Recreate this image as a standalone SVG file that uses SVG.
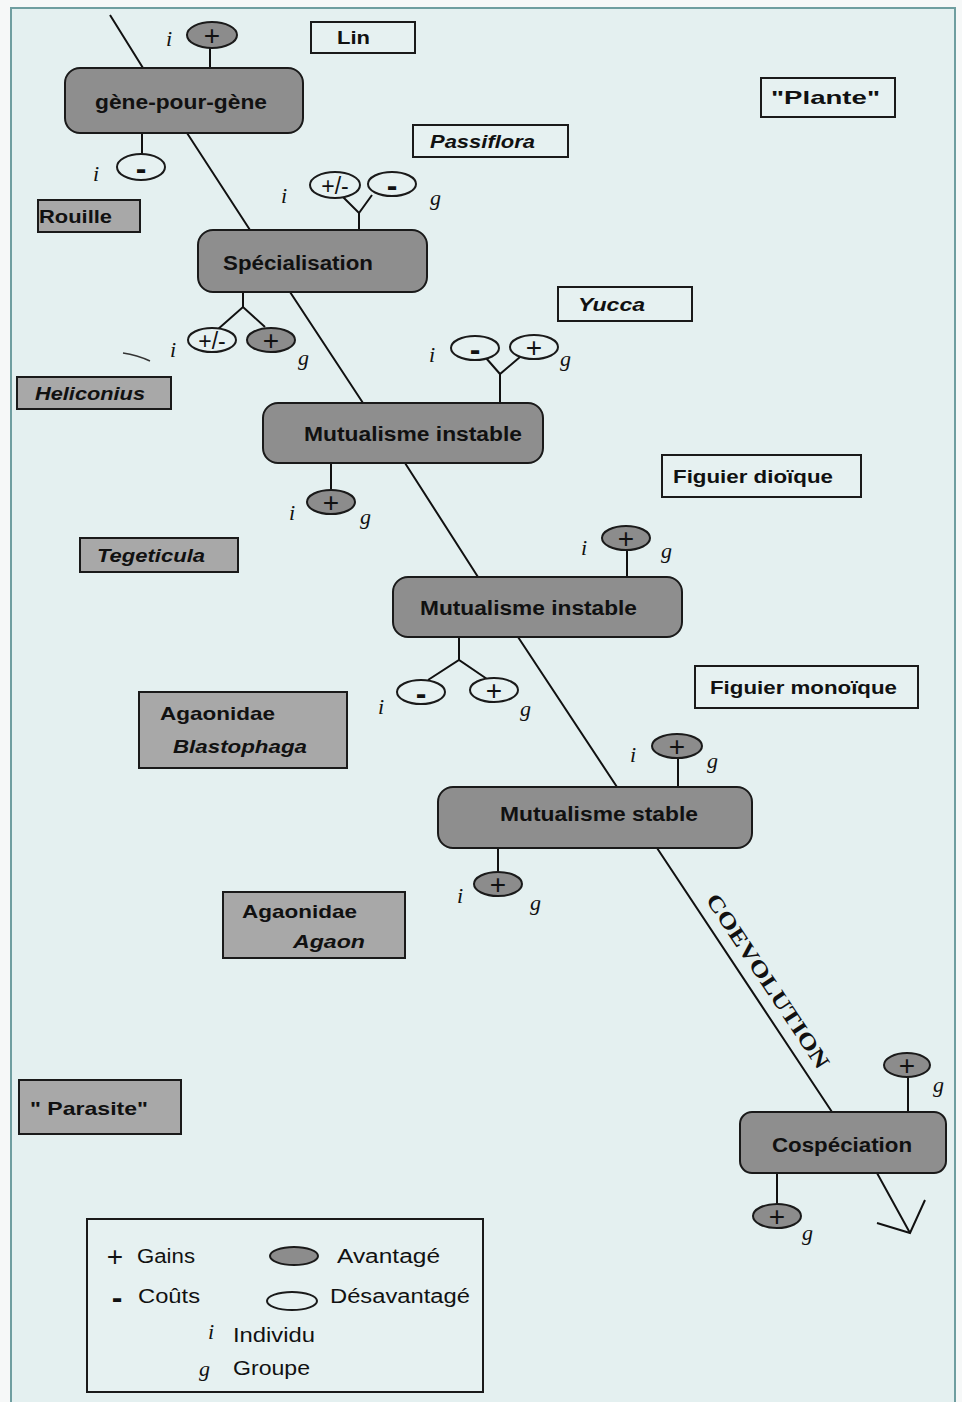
<svg xmlns="http://www.w3.org/2000/svg" width="962" height="1402" viewBox="0 0 962 1402">
<style>
.node rect{fill:#8e8e8e;stroke:#1a1a1a;stroke-width:2}
.nt{font-family:"Liberation Sans",Arial,sans-serif;font-weight:bold;font-size:20px;fill:#111}
.lb{font-family:"Liberation Sans",Arial,sans-serif;font-weight:bold;font-size:19px;fill:#111}
.it{font-style:italic}
.lbox{fill:#e6f1f1;stroke:#1a1a1a;stroke-width:2}
.gbox{fill:#a8a8a8;stroke:#1a1a1a;stroke-width:2}
.adv{fill:#8c8c8c;stroke:#1a1a1a;stroke-width:2}
.dis{fill:#e6f1f1;stroke:#1a1a1a;stroke-width:2}
.sym{font-family:"Liberation Sans",Arial,sans-serif;font-size:28px;text-anchor:middle;fill:#111}
.pm{font-family:"Liberation Sans",Arial,sans-serif;font-size:23px;text-anchor:middle;fill:#111}
.mn{font-family:"Liberation Sans",Arial,sans-serif;font-size:32px;font-weight:bold;text-anchor:middle;fill:#111}
.ig{font-family:"Liberation Serif","DejaVu Serif",serif;font-style:italic;font-size:22px;fill:#111}
.conn{stroke:#111;stroke-width:2;fill:none}
.leg{font-family:"Liberation Sans",Arial,sans-serif;font-size:20px;fill:#111}
.legp{font-family:"Liberation Sans",Arial,sans-serif;font-size:28px;text-anchor:middle;fill:#111}
.legm{font-family:"Liberation Sans",Arial,sans-serif;font-size:32px;font-weight:bold;text-anchor:middle;fill:#111}
</style>
<rect x="0" y="0" width="962" height="1402" fill="#f6f8f8"/>
<rect x="11" y="8" width="944" height="1400" fill="#e4f0f0" stroke="#6f9ea0" stroke-width="2"/>

<g id="connectors">
  <polyline class="conn" points="110,15 143,68 187,133 250,230 290,292 363,403 405,463 478,577 518,637 617,787 657,848 832,1112 877,1173 910,1233"/>
  <polyline class="conn" points="877,1223 910,1233 925,1200"/>
  <line class="conn" x1="210" y1="48" x2="210" y2="68"/>
  <line class="conn" x1="142" y1="133" x2="142" y2="154"/>
  <polyline class="conn" points="343,197 359,213 372,195"/>
  <line class="conn" x1="359" y1="213" x2="359" y2="230"/>
  <line class="conn" x1="243" y1="292" x2="243" y2="307"/>
  <polyline class="conn" points="217,330 243,307 265,327"/>
  <line class="conn" x1="500" y1="374" x2="500" y2="403"/>
  <polyline class="conn" points="486,358 500,374 520,357"/>
  <line class="conn" x1="331" y1="463" x2="331" y2="490"/>
  <line class="conn" x1="627" y1="550" x2="627" y2="577"/>
  <line class="conn" x1="459" y1="637" x2="459" y2="660"/>
  <polyline class="conn" points="428,680 459,660 487,679"/>
  <line class="conn" x1="678" y1="758" x2="678" y2="787"/>
  <line class="conn" x1="498" y1="848" x2="498" y2="872"/>
  <line class="conn" x1="908" y1="1077" x2="908" y2="1112"/>
  <line class="conn" x1="777" y1="1173" x2="777" y2="1204"/>
  <path d="M123,353 Q137,355 150,361" stroke="#333" stroke-width="1.5" fill="none"/>
  <text x="768" y="981" transform="rotate(56.5 768 981)" text-anchor="middle" dominant-baseline="central" font-family="'Liberation Serif','Times New Roman',serif" font-weight="bold" font-size="22" textLength="205" lengthAdjust="spacingAndGlyphs" fill="#111">COEVOLUTION</text>
</g>

<g id="node-gene" class="node">
  <rect x="65" y="68" width="238" height="65" rx="15"/>
  <text class="nt" x="95" y="109" textLength="172" lengthAdjust="spacingAndGlyphs">gène-pour-gène</text>
</g>
<g id="node-specialisation" class="node">
  <rect x="198" y="230" width="229" height="62" rx="15"/>
  <text class="nt" x="223" y="270" textLength="150" lengthAdjust="spacingAndGlyphs">Spécialisation</text>
</g>
<g id="node-mut1" class="node">
  <rect x="263" y="403" width="280" height="60" rx="15"/>
  <text class="nt" x="304" y="441" textLength="218" lengthAdjust="spacingAndGlyphs">Mutualisme instable</text>
</g>
<g id="node-mut2" class="node">
  <rect x="393" y="577" width="289" height="60" rx="15"/>
  <text class="nt" x="420" y="615" textLength="217" lengthAdjust="spacingAndGlyphs">Mutualisme instable</text>
</g>
<g id="node-mutstable" class="node">
  <rect x="438" y="787" width="314" height="61" rx="15"/>
  <text class="nt" x="500" y="821" textLength="198" lengthAdjust="spacingAndGlyphs">Mutualisme stable</text>
</g>
<g id="node-cospeciation" class="node">
  <rect x="740" y="1112" width="206" height="61" rx="12"/>
  <text class="nt" x="772" y="1152" textLength="140" lengthAdjust="spacingAndGlyphs">Cospéciation</text>
</g>

<g id="label-lin"><rect class="lbox" x="311" y="22" width="104" height="31"/><text class="lb" x="337" y="44" textLength="33" lengthAdjust="spacingAndGlyphs">Lin</text></g>
<g id="label-plante"><rect class="lbox" x="761" y="78" width="134" height="39"/><text class="lb" x="771" y="104" textLength="109" lengthAdjust="spacingAndGlyphs">"Plante"</text></g>
<g id="label-passiflora"><rect class="lbox" x="413" y="125" width="155" height="32"/><text class="lb it" x="430" y="148" textLength="105" lengthAdjust="spacingAndGlyphs">Passiflora</text></g>
<g id="label-rouille"><rect class="gbox" x="38" y="200" width="102" height="32"/><text class="lb" x="39" y="223" textLength="73" lengthAdjust="spacingAndGlyphs">Rouille</text></g>
<g id="label-yucca"><rect class="lbox" x="558" y="287" width="134" height="34"/><text class="lb it" x="578" y="311" textLength="67" lengthAdjust="spacingAndGlyphs">Yucca</text></g>
<g id="label-heliconius"><rect class="gbox" x="17" y="377" width="154" height="32"/><text class="lb it" x="35" y="400" textLength="110" lengthAdjust="spacingAndGlyphs">Heliconius</text></g>
<g id="label-figuier-dioique"><rect class="lbox" x="662" y="455" width="199" height="42"/><text class="lb" x="673" y="483" textLength="160" lengthAdjust="spacingAndGlyphs">Figuier dioïque</text></g>
<g id="label-tegeticula"><rect class="gbox" x="80" y="538" width="158" height="34"/><text class="lb it" x="97" y="562" textLength="108" lengthAdjust="spacingAndGlyphs">Tegeticula</text></g>
<g id="label-figuier-monoique"><rect class="lbox" x="695" y="666" width="223" height="42"/><text class="lb" x="710" y="694" textLength="187" lengthAdjust="spacingAndGlyphs">Figuier monoïque</text></g>
<g id="label-blastophaga"><rect class="gbox" x="139" y="692" width="208" height="76"/><text class="lb" x="160" y="720" textLength="115" lengthAdjust="spacingAndGlyphs">Agaonidae</text><text class="lb it" x="173" y="753" textLength="134" lengthAdjust="spacingAndGlyphs">Blastophaga</text></g>
<g id="label-agaon"><rect class="gbox" x="223" y="892" width="182" height="66"/><text class="lb" x="242" y="918" textLength="115" lengthAdjust="spacingAndGlyphs">Agaonidae</text><text class="lb it" x="293" y="948" textLength="72" lengthAdjust="spacingAndGlyphs">Agaon</text></g>
<g id="label-parasite"><rect class="gbox" x="19" y="1080" width="162" height="54"/><text class="lb" x="30" y="1115" textLength="118" lengthAdjust="spacingAndGlyphs">" Parasite"</text></g>

<g id="effects-gene">
  <ellipse class="adv" cx="212" cy="35" rx="25" ry="13"/><text class="sym" x="212" y="45">+</text>
  <text class="ig" x="166" y="46">i</text>
  <ellipse class="dis" cx="141" cy="167" rx="24" ry="13"/><text class="mn" x="141" y="179">-</text>
  <text class="ig" x="93" y="181">i</text>
</g>
<g id="effects-specialisation">
  <ellipse class="dis" cx="335" cy="185" rx="25" ry="13"/><text class="pm" x="335" y="194">+/-</text>
  <ellipse class="dis" cx="392" cy="184" rx="24" ry="12"/><text class="mn" x="392" y="196">-</text>
  <text class="ig" x="281" y="203">i</text><text class="ig" x="430" y="205">g</text>
  <ellipse class="dis" cx="212" cy="340" rx="24" ry="12"/><text class="pm" x="212" y="349">+/-</text>
  <ellipse class="adv" cx="271" cy="340" rx="24" ry="12"/><text class="sym" x="271" y="350">+</text>
  <text class="ig" x="170" y="357">i</text><text class="ig" x="298" y="365">g</text>
</g>
<g id="effects-mut1">
  <ellipse class="dis" cx="475" cy="348" rx="24" ry="12"/><text class="mn" x="475" y="360">-</text>
  <ellipse class="dis" cx="534" cy="347" rx="24" ry="12"/><text class="sym" x="534" y="357">+</text>
  <text class="ig" x="429" y="362">i</text><text class="ig" x="560" y="366">g</text>
  <ellipse class="adv" cx="331" cy="502" rx="24" ry="12"/><text class="sym" x="331" y="512">+</text>
  <text class="ig" x="289" y="520">i</text><text class="ig" x="360" y="524">g</text>
</g>
<g id="effects-mut2">
  <ellipse class="adv" cx="626" cy="538" rx="24" ry="12"/><text class="sym" x="626" y="548">+</text>
  <text class="ig" x="581" y="555">i</text><text class="ig" x="661" y="558">g</text>
  <ellipse class="dis" cx="421" cy="692" rx="24" ry="12"/><text class="mn" x="421" y="704">-</text>
  <ellipse class="dis" cx="494" cy="690" rx="24" ry="12"/><text class="sym" x="494" y="700">+</text>
  <text class="ig" x="378" y="714">i</text><text class="ig" x="520" y="716">g</text>
</g>
<g id="effects-mutstable">
  <ellipse class="adv" cx="677" cy="746" rx="25" ry="12"/><text class="sym" x="677" y="756">+</text>
  <text class="ig" x="630" y="762">i</text><text class="ig" x="707" y="768">g</text>
  <ellipse class="adv" cx="498" cy="884" rx="24" ry="12"/><text class="sym" x="498" y="894">+</text>
  <text class="ig" x="457" y="903">i</text><text class="ig" x="530" y="910">g</text>
</g>
<g id="effects-cospeciation">
  <ellipse class="adv" cx="907" cy="1065" rx="23" ry="12"/><text class="sym" x="907" y="1075">+</text>
  <text class="ig" x="933" y="1092">g</text>
  <ellipse class="adv" cx="777" cy="1216" rx="24" ry="12"/><text class="sym" x="777" y="1226">+</text>
  <text class="ig" x="802" y="1240">g</text>
</g>

<g id="legend">
  <rect x="87" y="1219" width="396" height="173" fill="#e6f1f1" stroke="#1a1a1a" stroke-width="2"/>
  <text class="legp" x="115" y="1266">+</text>
  <text class="leg" x="137" y="1263" textLength="58" lengthAdjust="spacingAndGlyphs">Gains</text>
  <ellipse class="adv" cx="294" cy="1256" rx="24" ry="9"/>
  <text class="leg" x="337" y="1263" textLength="103" lengthAdjust="spacingAndGlyphs">Avantagé</text>
  <text class="legm" x="117" y="1308">-</text>
  <text class="leg" x="138" y="1303" textLength="62" lengthAdjust="spacingAndGlyphs">Coûts</text>
  <ellipse class="dis" cx="292" cy="1301" rx="25" ry="9"/>
  <text class="leg" x="330" y="1303" textLength="140" lengthAdjust="spacingAndGlyphs">Désavantagé</text>
  <text class="ig" x="208" y="1339">i</text>
  <text class="leg" x="233" y="1342" textLength="82" lengthAdjust="spacingAndGlyphs">Individu</text>
  <text class="ig" x="199" y="1376">g</text>
  <text class="leg" x="233" y="1375" textLength="77" lengthAdjust="spacingAndGlyphs">Groupe</text>
</g>
</svg>
